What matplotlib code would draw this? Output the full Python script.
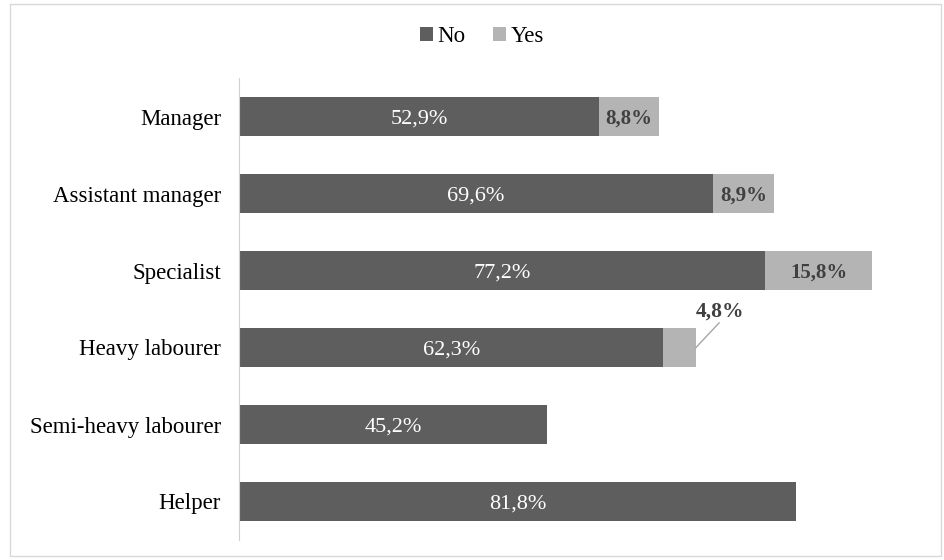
import matplotlib.pyplot as plt
from matplotlib.patches import Rectangle

plt.rcParams['font.family'] = ['Liberation Serif', 'DejaVu Serif']

categories = ['Manager', 'Assistant manager', 'Specialist', 'Heavy labourer',
              'Semi-heavy labourer', 'Helper']
no_vals = [52.9, 69.6, 77.2, 62.3, 45.2, 81.8]
yes_vals = [8.8, 8.9, 15.8, 4.8, 0.0, 0.0]

C_NO = '#5e5e5e'
C_YES = '#b4b4b4'
FS = 16.5

fig = plt.figure(figsize=(9.44, 5.6), dpi=100)
fig.patches.append(Rectangle((10 / 944, 4 / 560), 931 / 944, 552 / 560,
                             transform=fig.transFigure, fill=False,
                             edgecolor='#d9d9d9', linewidth=1))
ax = fig.add_axes([239 / 944, 20 / 560, 681 / 944, 462 / 560])

y = list(range(len(categories)))
ax.barh(y, no_vals, height=0.51, color=C_NO, label='No')
ax.barh(y, yes_vals, left=no_vals, height=0.51, color=C_YES, label='Yes')

def fmt(v):
    return f'{v:.1f}%'.replace('.', ',')

for i, (n, s) in enumerate(zip(no_vals, yes_vals)):
    ax.text(n / 2, i + 0.03, fmt(n), ha='center', va='center', color='white',
            fontsize=FS - 0.5)
    if s <= 0:
        continue
    if s < 6:
        # small segment: label above with a leader line
        ax.plot([n + s, n + s + 3.4], [i, i - 0.32], color='#a6a6a6', lw=1)
        ax.text(n + s + 3.5, i - 0.47, fmt(s), ha='center', va='center',
                fontsize=FS - 1, fontweight='bold', color='#404040')
    else:
        ax.text(n + s / 2, i + 0.03, fmt(s), ha='center', va='center',
                color='#404040', fontsize=FS - 1.5, fontweight='bold')

ax.set_ylim(len(categories) - 0.5, -0.5)
ax.set_xlim(0, 100)
ax.set_yticks(y)
ax.set_yticklabels(categories, fontsize=FS)
ax.tick_params(axis='y', length=0, pad=13)
ax.set_xticks([])
for side in ['top', 'right', 'bottom']:
    ax.spines[side].set_visible(False)
ax.spines['left'].set_color('#d0d0d0')

fig.legend(loc='center', bbox_to_anchor=(482 / 944, 1 - 37 / 560), ncol=2,
           frameon=False, fontsize=FS, handlelength=0.55, handleheight=0.55,
           handletextpad=0.2, columnspacing=1.2)

fig.savefig('out.png', dpi=100)
